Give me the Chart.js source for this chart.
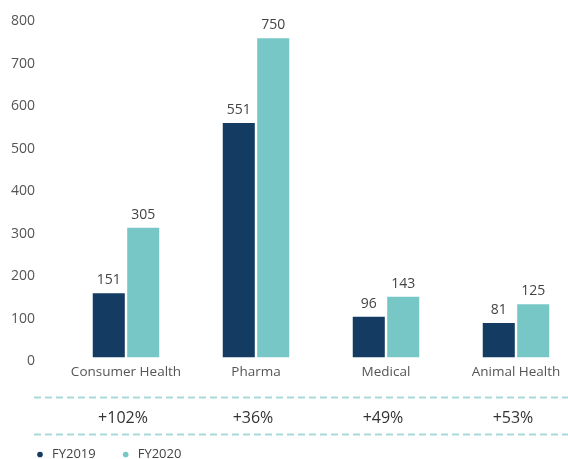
<!DOCTYPE html>
<html>
<head>
<meta charset="utf-8">
<script src="https://cdn.jsdelivr.net/npm/chart.js@4"></script>
<style>
  html, body { margin: 0; padding: 0; background: #fff; overflow: hidden; }
  #wrap { width: 581px; height: 459px; position: relative; }
</style>
</head>
<body>
<div id="wrap"><canvas id="salesChart"></canvas></div>
<script>
const categories = ['Consumer Health', 'Pharma', 'Medical', 'Animal Health'];
const fy2019 = [151, 551, 96, 81];
const fy2020 = [305, 750, 143, 125];
const growth = ['+102%', '+36%', '+49%', '+53%'];
const yTicks = [0, 100, 200, 300, 400, 500, 600, 700, 800];

const navy = '#143c63';
const teal = '#76c7c6';
const dashColor = '#a9dada';
const textColor = '#444';
const fontFamily = '"Open Sans", sans-serif';

// value labels on top of each bar + growth row between dashed rules
const extras = {
    id: 'extras',
    afterDatasetsDraw(chart) {
        const ctx = chart.ctx;
        ctx.save();
        ctx.fillStyle = textColor;
        ctx.font = '14px ' + fontFamily;
        ctx.textAlign = 'center';
        ctx.textBaseline = 'alphabetic';
        chart.data.datasets.forEach((ds, i) => {
            chart.getDatasetMeta(i).data.forEach((bar, j) => {
                ctx.fillText(ds.data[j], bar.x, bar.y - 9);
            });
        });

        const x = chart.scales.x;
        const base = chart.chartArea.bottom;
        ctx.strokeStyle = dashColor;
        ctx.lineWidth = 2;
        ctx.setLineDash([7, 4]);
        [base + 40, base + 77].forEach(y => {
            ctx.beginPath();
            ctx.moveTo(34, y);
            ctx.lineTo(chart.width, y);
            ctx.stroke();
        });
        ctx.setLineDash([]);

        ctx.font = '16px ' + fontFamily;
        ctx.fillStyle = '#333';
        ctx.textBaseline = 'middle';
        growth.forEach((g, i) => {
            ctx.fillText(g, x.getPixelForValue(i) - 3, base + 61);
        });
        ctx.restore();
    }
};

new Chart(document.getElementById('salesChart'), {
    type: 'bar',
    data: {
        labels: categories,
        datasets: [
            { label: 'FY2019', data: fy2019, backgroundColor: navy },
            { label: 'FY2020', data: fy2020, backgroundColor: teal }
        ]
    },
    options: {
        responsive: true,
        maintainAspectRatio: false,
        animation: false,
        datasets: {
            bar: { categoryPercentage: 0.53, barPercentage: 0.93 }
        },
        layout: { padding: { left: 10, top: 17, right: 0, bottom: -12 } },
        scales: {
            x: {
                grid: { display: false, drawTicks: false },
                border: { display: false },
                ticks: { color: '#555', font: { family: fontFamily, size: 13.5 }, padding: 7, maxRotation: 0 },
                afterFit: s => {
                    s.height = 66;
                    s.paddingLeft = 0;
                    s.paddingRight = 0;
                }
            },
            y: {
                min: 0,
                max: 800,
                afterBuildTicks: s => { s.ticks = yTicks.map(v => ({ value: v })); },
                grid: { display: false, drawTicks: false },
                border: { display: false },
                ticks: { color: '#555', font: { family: fontFamily, size: 14 }, padding: 26, labelOffset: 4 },
                afterFit: s => {
                    s.width = 51;
                    s.paddingTop = 0;
                    s.paddingBottom = 0;
                }
            }
        },
        plugins: {
            tooltip: { enabled: false },
            legend: {
                position: 'bottom',
                align: 'start',
                labels: {
                    usePointStyle: true,
                    pointStyle: 'circle',
                    boxWidth: 11,
                    boxHeight: 4,
                    padding: 24.5,
                    color: '#444',
                    font: { family: fontFamily, size: 13 }
                }
            }
        }
    },
    plugins: [extras]
});
</script>
</body>
</html>
